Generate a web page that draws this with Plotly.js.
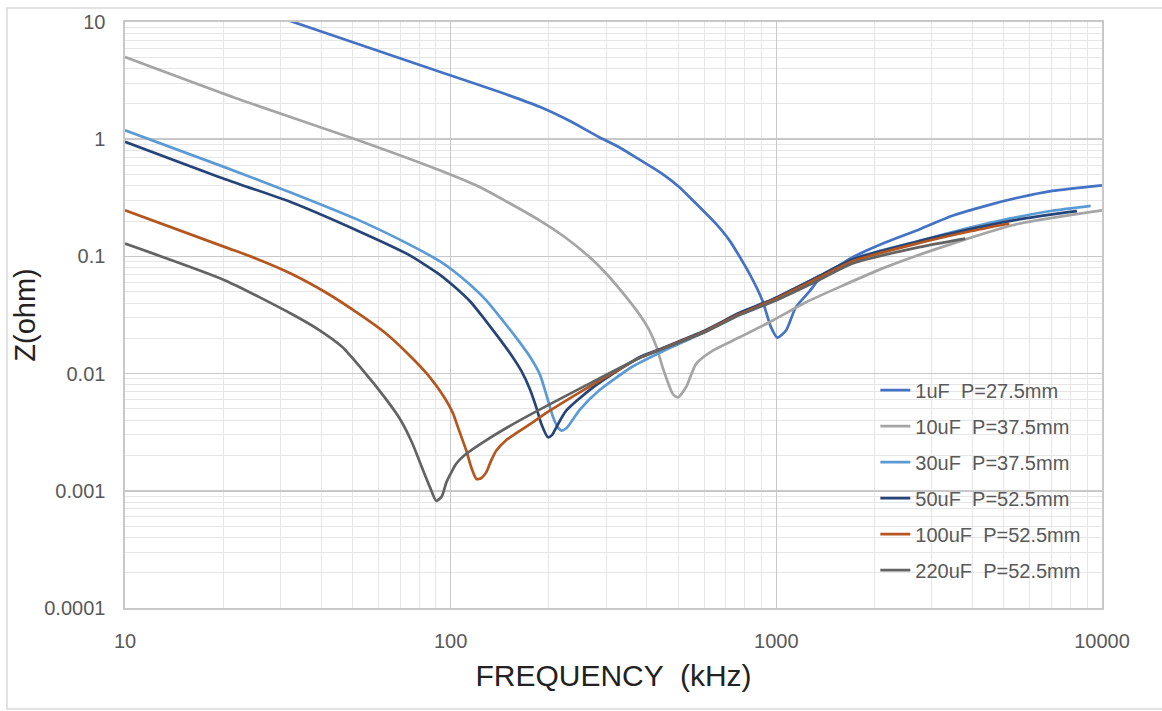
<!DOCTYPE html>
<html>
<head>
<meta charset="utf-8">
<script src="https://cdn.plot.ly/plotly-3.0.1.min.js"></script>
<style>html,body{margin:0;padding:0;background:#fff;}#chart{width:1162px;height:711px;}</style>
</head>
<body>
<div id="chart"></div>
<script>
// ---- data (frequency in kHz, impedance in ohm) ----
const seriesNames = ["1uF  P=27.5mm", "10uF  P=37.5mm", "30uF  P=37.5mm", "50uF  P=52.5mm", "100uF  P=52.5mm", "220uF  P=52.5mm"];

const freq1uF = [30, 92.5, 140, 187.5, 230, 286, 330, 380, 440, 503, 540, 581, 650, 718, 826, 906, 963, 1007, 1071, 1148, 1262, 1355, 1500, 1711, 2168, 2748, 3467, 4396, 5559, 7027, 10000];
const z1uF    = [10.9, 3.76, 2.55, 1.89, 1.45, 1.04, 0.85, 0.67, 0.52, 0.391, 0.323, 0.264, 0.192, 0.137, 0.0716, 0.0421, 0.0249, 0.0203, 0.0233, 0.0369, 0.05, 0.064, 0.078, 0.098, 0.132, 0.17, 0.222, 0.27, 0.318, 0.362, 0.404];

const freq10uF = [10, 22.8, 52, 92.5, 122.7, 187.5, 225, 267, 305, 346, 380, 408, 430, 448, 481, 498, 528, 567, 638, 771, 975, 1233, 1560, 2168, 3475, 5559, 10000];
const z10uF    = [5.02, 2.15, 0.98, 0.543, 0.391, 0.203, 0.145, 0.0986, 0.068, 0.0449, 0.032, 0.0233, 0.0165, 0.0112, 0.0067, 0.00627, 0.00764, 0.0121, 0.0157, 0.0204, 0.0284, 0.0406, 0.0547, 0.081, 0.1285, 0.19, 0.247];

const freq30uF = [10, 20.3, 32.4, 52, 74, 92.5, 102.8, 115, 128.8, 144.5, 160, 175, 188, 198, 206, 213, 219, 226, 232, 249, 286, 362, 437, 608, 771, 975, 1355, 1714, 2748, 3908, 5191, 7027, 9230];
const z30uF    = [1.19, 0.575, 0.35, 0.205, 0.128, 0.091, 0.074, 0.057, 0.042, 0.0284, 0.0198, 0.014, 0.0098, 0.0062, 0.0043, 0.0035, 0.00326, 0.0034, 0.0037, 0.0049, 0.0072, 0.0115, 0.015, 0.023, 0.0325, 0.0428, 0.068, 0.095, 0.136, 0.175, 0.21, 0.245, 0.27];

const freq50uF = [10, 20.3, 32.4, 52, 74, 92.5, 102.8, 115, 126, 140, 152, 165, 175, 183, 190, 199, 205, 211, 226, 273, 380, 437, 608, 771, 975, 1355, 1714, 2748, 3908, 5191, 7027, 8375];
const z50uF    = [0.949, 0.455, 0.29, 0.165, 0.104, 0.07, 0.055, 0.041, 0.03, 0.0205, 0.015, 0.0105, 0.0074, 0.0052, 0.0037, 0.00286, 0.003, 0.00347, 0.0048, 0.0076, 0.0138, 0.0161, 0.0236, 0.033, 0.0432, 0.068, 0.0945, 0.135, 0.17, 0.2, 0.228, 0.243];

const freq100uF = [10, 20.3, 25, 32.4, 42, 52, 63, 74, 85, 95.9, 101.6, 106, 111.7, 116, 120, 124, 128.8, 133, 138, 148, 159, 180, 201, 255, 380, 437, 608, 771, 975, 1355, 1714, 2748, 3908, 5191];
const z100uF    = [0.247, 0.12, 0.097, 0.0711, 0.048, 0.0326, 0.0222, 0.01472, 0.0098, 0.0062, 0.0046, 0.0033, 0.0022, 0.00155, 0.00126, 0.00128, 0.00145, 0.0018, 0.0022, 0.0027, 0.0031, 0.0039, 0.0048, 0.0072, 0.0136, 0.0159, 0.0231, 0.0322, 0.0422, 0.066, 0.091, 0.13, 0.163, 0.191];

const freq220uF = [10, 20.3, 32.4, 39.7, 46.3, 54.5, 62.8, 69.8, 75.9, 81.5, 86.3, 90.3, 94, 97, 104, 110, 126, 150, 179, 255, 380, 437, 608, 771, 975, 1355, 1714, 2748, 3800];
const z220uF    = [0.1285, 0.0624, 0.0324, 0.0233, 0.017, 0.0102, 0.00624, 0.00412, 0.00262, 0.0016, 0.00108, 0.00082, 0.0009, 0.00118, 0.0017, 0.002, 0.0026, 0.0035, 0.0046, 0.0077, 0.0136, 0.0158, 0.0228, 0.0316, 0.041, 0.063, 0.087, 0.12, 0.142];

const xTickVals = [10, 100, 1000, 10000];
const xTickText = ["10", "100", "1000", "10000"];
const yTickVals = [0.0001, 0.001, 0.01, 0.1, 1, 10];
const yTickText = ["0.0001", "0.001", "0.01", "0.1", "1", "10"];

// ---- styling ----
const colors = ["#4472C4", "#A5A5A5", "#5B9BD5", "#264478", "#B4561E", "#636363"];
const freqs = [freq1uF, freq10uF, freq30uF, freq50uF, freq100uF, freq220uF];
const zs = [z1uF, z10uF, z30uF, z50uF, z100uF, z220uF];

function minorVals(lo, hi) {
  const out = [];
  for (let e = lo; e < hi; e++) {
    for (let k = 2; k <= 9; k++) out.push(k * Math.pow(10, e));
  }
  return out;
}

const traces = seriesNames.map((name, i) => ({
  type: "scatter",
  mode: "lines",
  name: name,
  x: freqs[i],
  y: zs[i],
  legendgroup: "g" + i,
  line: { color: colors[i], width: 2.7, shape: "spline", smoothing: 0.6 },
  hoverinfo: "x+y+name"
}));

const tickFont = { family: "Liberation Sans, Arial, sans-serif", size: 20, color: "#595959" };

const layout = {
  width: 1162,
  height: 711,
  margin: { l: 125, r: 60, t: 22, b: 103 },
  paper_bgcolor: "#ffffff",
  plot_bgcolor: "#ffffff",
  showlegend: true,
  legend: {
    x: 0.768, xanchor: "left",
    y: 0.405, yanchor: "top",
    bgcolor: "rgba(0,0,0,0)",
    font: { family: "Liberation Sans, Arial, sans-serif", size: 20, color: "#595959" },
    tracegroupgap: 7,
    traceorder: "grouped"
  },
  xaxis: {
    type: "log",
    range: [1, 4],
    tickmode: "array",
    tickvals: xTickVals,
    ticktext: xTickText,
    ticks: "",
    tickfont: tickFont,
    ticklabelstandoff: 14,
    showgrid: true,
    gridcolor: "#c8c8c8",
    gridwidth: 1.6,
    showline: true,
    linecolor: "#c8c8c8",
    linewidth: 1.6,
    mirror: true,
    minor: { tickmode: "array", tickvals: minorVals(1, 4), showgrid: true, gridcolor: "#e6e6e6", gridwidth: 1, ticks: "" },
    title: { text: "FREQUENCY  (kHz)", font: { family: "Liberation Sans, Arial, sans-serif", size: 30, color: "#222222" }, standoff: 14 },
    automargin: false
  },
  yaxis: {
    type: "log",
    range: [-4, 1],
    tickmode: "array",
    tickvals: yTickVals,
    ticktext: yTickText,
    ticks: "",
    tickfont: tickFont,
    ticklabelstandoff: 14,
    showgrid: true,
    gridcolor: "#c8c8c8",
    gridwidth: 1.6,
    showline: true,
    linecolor: "#c8c8c8",
    linewidth: 1.6,
    mirror: true,
    minor: { tickmode: "array", tickvals: minorVals(-4, 1), showgrid: true, gridcolor: "#e6e6e6", gridwidth: 1, ticks: "" },
    title: { text: "Z(ohm)", font: { family: "Liberation Sans, Arial, sans-serif", size: 29, color: "#222222" }, standoff: 0 },
    automargin: false
  },
  shapes: [{
    type: "rect", xref: "paper", yref: "paper",
    x0: -0.1208, x1: 1.07, y0: -0.1724, y1: 1.0239,
    line: { color: "#d9d9d9", width: 1.5 },
    fillcolor: "rgba(0,0,0,0)",
    layer: "below"
  }]
};

Plotly.newPlot("chart", traces, layout, { displayModeBar: false, staticPlot: true });
</script>
</body>
</html>
